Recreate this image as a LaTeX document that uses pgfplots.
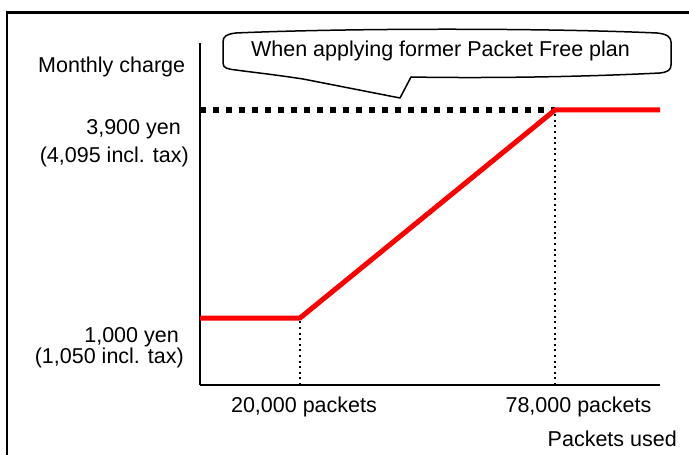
\documentclass[border=0pt]{standalone}
\usepackage{pgfplots}
\pgfplotsset{compat=1.18}
\usepackage{fontspec}
\setmainfont{Liberation Sans}
\begin{document}
\fontsize{21.5}{25}\selectfont
\begin{tikzpicture}[x=1pt,y=1pt]
\useasboundingbox (0,0) rectangle (689,455);
\begin{scope}
\clip (0,0) rectangle (689,455);
\draw[line width=2.5pt] (7,-20) -- (7,442.5) -- (720,442.5);
\end{scope}
% callout
\draw[line width=1.5pt, fill=white, line join=round]
  (223,413) .. controls (223,419) and (227,421) .. (236,422)
  .. controls (350,427) and (545,427) .. (657,422)
  .. controls (667,421) and (671,418) .. (671,413)
  -- (671,390)
  .. controls (671,385) and (668,383) .. (660,382)
  .. controls (560,377) and (460,377) .. (411,378)
  -- (400,357) -- (303,376)
  .. controls (270,381) and (250,383) .. (236,385)
  .. controls (227,386) and (223,387) .. (223,392) -- cycle;
\node[anchor=base, inner sep=0pt] at (440.5,398) {When applying former Packet Free plan};
\begin{axis}[
  at={(200pt,70pt)}, anchor=south west,
  scale only axis, width=460pt, height=342pt,
  xmin=-2745, xmax=101880, ymin=66, ymax=4834,
  axis x line=bottom, axis y line=left,
  axis line style={line width=2pt, -},
  xtick=\empty, ytick=\empty,
  clip=false,
]
\addplot[black, line width=2pt, dash pattern=on 2pt off 3.6pt] coordinates {(20000,66) (20000,1000)};
\addplot[black, line width=2pt, dash pattern=on 2pt off 3.6pt] coordinates {(78000,66) (78000,3900)};
\addplot[black, line width=5.5pt, dash pattern=on 6pt off 7pt] coordinates {(-2745,3900) (78000,3900)};
\addplot[red, line width=5pt, line join=round] coordinates {(-2745,1000) (20000,1000) (78000,3900) (101880,3900)};
\end{axis}
\node[anchor=base west, inner sep=0pt] at (38,382) {Monthly charge};
\node[anchor=base east, inner sep=0pt] at (181,320) {3,900 yen};
\node[anchor=base east, inner sep=0pt] at (189,292) {(4,095 incl. tax)};
\node[anchor=base east, inner sep=0pt] at (179,112) {1,000 yen};
\node[anchor=base east, inner sep=0pt] at (184,91) {(1,050 incl. tax)};
\node[anchor=base, inner sep=0pt] at (304,42) {20,000 packets};
\node[anchor=base, inner sep=0pt] at (578.5,42) {78,000 packets};
\node[anchor=base east, inner sep=0pt] at (677,8) {Packets used};
\end{tikzpicture}
\end{document}
